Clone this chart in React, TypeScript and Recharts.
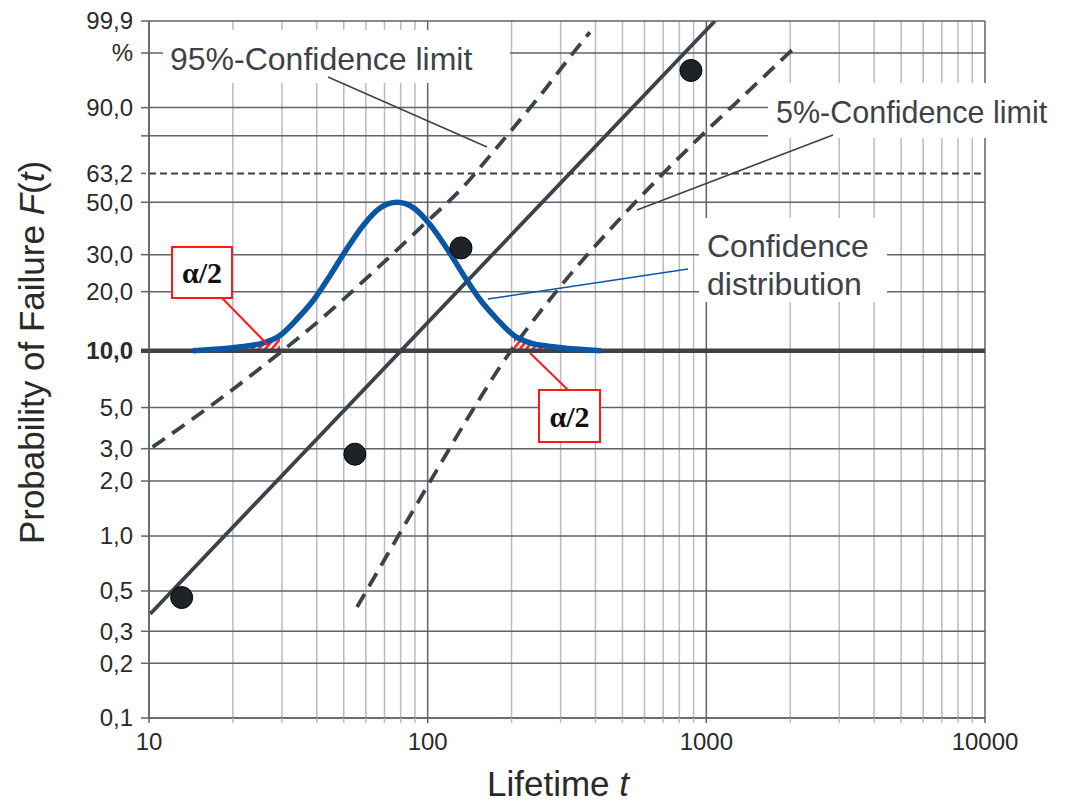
import React from 'react';
import {
  Area,
  CartesianGrid,
  ComposedChart,
  Label,
  Line,
  Scatter,
  XAxis,
  YAxis,
} from 'recharts';

// Weibull probability paper: ordinate is ln(-ln(1 - F))
const weib = (pct: number) => Math.log(-Math.log(1 - pct / 100));

// lifetime axis (log)
const X_MAJOR = [10, 100, 1000, 10000];
const X_MINOR = [
  20, 30, 40, 50, 60, 70, 80, 90, 200, 300, 400, 500, 600, 700, 800, 900, 2000, 3000, 4000, 5000,
  6000, 7000, 8000, 9000,
];

// probability axis (%)
const Y_TICKS = [0.1, 0.2, 0.3, 0.5, 1, 2, 3, 5, 10, 20, 30, 50, 63.2, 80, 90, 99, 99.9];
const Y_LABELS = ['0,1', '0,2', '0,3', '0,5', '1,0', '2,0', '3,0', '5,0', '10,0', '20,0', '30,0', '50,0', '63,2', '', '90,0', '%', '99,9'];
const Y_GRID = [0.1, 0.2, 0.3, 0.5, 1, 2, 3, 5, 20, 30, 50, 80, 90, 99, 99.9];
const CHAR_LEVEL = 63.2;
const QUANTILE = 10;

// failures: lifetime and median rank (%)
const failT = [13.1, 54.8, 131.7, 880.7];
const failF = [0.46, 2.8, 32.2, 97.5];

// fitted Weibull line
const fitT = [10.1, 1074];
const fitF = [0.374, 99.9];

// 95 % confidence limit
const upperT = [10.3, 16.8, 26.5, 41.1, 62.1, 93.8, 136.1, 171.5, 214.4, 267.9, 324, 382];
const upperF = [3.06, 5.16, 8.63, 14.43, 24.08, 39.3, 57.8, 73.0, 86.0, 94.98, 98.74, 99.75];

// 5 % confidence limit
const lowerT = [55.8, 99.4, 150.3, 181.7, 298.4, 477.7, 948, 1470, 2029];
const lowerF = [0.408, 1.857, 5.29, 8.23, 21.08, 41.7, 79.5, 94.98, 99.16];

// confidence distribution of the 10 % lifetime, sitting on the 10 % line
const distT = [
  14.38, 19.52, 22.47, 25.65, 29.51, 33.96, 38.77, 44.61, 51.33, 59.07, 67.44, 77.6, 89.3, 101.9,
  117.3, 134.9, 155.3, 177.3, 204.0, 234.8, 268.0, 308.4, 418.7,
];
const distF = [
  10.0, 10.35, 10.6, 10.97, 12.02, 14.59, 18.04, 23.92, 31.96, 40.71, 47.47, 50.0, 47.47, 40.71,
  31.96, 23.92, 18.04, 14.59, 12.02, 10.97, 10.6, 10.35, 10.0,
];

const W = 1059;
const H = 797;
const FONT = '"Liberation Sans", Arial, sans-serif';
const SERIF = '"Liberation Serif", "DejaVu Serif", serif';
const DARK = '#3d4248';
const GRID = '#5f646a';
const MINOR = '#b8bcc2';
const BLUE = '#0b56a4';
const TEXT = '#3d4248';
const RED = '#ff1a1a';

const toPts = (ts: number[], fs: number[]) => ts.map((t, i) => ({ t, w: weib(fs[i]) }));
const level = (pct: number) => [X_MAJOR[0], X_MAJOR[X_MAJOR.length - 1]].map((t) => ({ t, w: weib(pct) }));

const fails = toPts(failT, failF);
const fit = toPts(fitT, fitF);
const upper = toPts(upperT, upperF);
const lower = toPts(lowerT, lowerF);
const dist = toPts(distT, distF);
const tailLeft = dist.filter((p) => p.t <= 30);
const tailRight = dist.filter((p) => p.t >= 200);

const YTick = (props: any) => {
  const { x, y, payload } = props;
  const i = Y_TICKS.findIndex((p) => Math.abs(weib(p) - payload.value) < 1e-6);
  const pct = Y_TICKS[i];
  const bold = pct === QUANTILE;
  return (
    <g>
      <line
        x1={x + 8}
        x2={x + 16}
        y1={y}
        y2={y}
        stroke={bold ? DARK : GRID}
        strokeWidth={bold ? 4.5 : 1.5}
        strokeDasharray={pct === CHAR_LEVEL ? '5 3' : undefined}
      />
      <text
        x={x}
        y={y}
        dy="0.35em"
        textAnchor="end"
        fontSize={24}
        fontWeight={bold ? 700 : 400}
        fontFamily={FONT}
        fill="#2a2a2a"
      >
        {Y_LABELS[i]}
      </text>
    </g>
  );
};

const XTick = (props: any) => {
  const { x, y, payload } = props;
  const major = X_MAJOR.includes(payload.value);
  return (
    <g>
      <line x1={x} x2={x} y1={y - 15} y2={y - 10} stroke={major ? GRID : MINOR} strokeWidth={1.5} />
      {major && (
        <text x={x} y={y} dy="0.71em" textAnchor="middle" fontSize={24} fontFamily={FONT} fill="#2a2a2a">
          {payload.value}
        </text>
      )}
    </g>
  );
};

const YTitle = (props: any) => {
  const vb = props.viewBox || {};
  const cx = (vb.x ?? 0) + 23;
  const cy = (vb.y ?? 0) + (vb.height ?? 0) / 2 - 17;
  return (
    <text
      x={cx}
      y={cy}
      transform={`rotate(-90 ${cx} ${cy})`}
      textAnchor="middle"
      dominantBaseline="central"
      fontSize={35}
      fontFamily={FONT}
      fill="#2a2a2a"
    >
      Probability of Failure <tspan fontStyle="italic">F</tspan>(<tspan fontStyle="italic">t</tspan>)
    </text>
  );
};

const XTitle = (props: any) => {
  const vb = props.viewBox || {};
  const cx = (vb.x ?? 0) + (vb.width ?? 0) / 2 - 9;
  const cy = (vb.y ?? 0) + 78;
  return (
    <text x={cx} y={cy} textAnchor="middle" fontSize={35} fontFamily={FONT} fill="#2a2a2a">
      Lifetime <tspan fontStyle="italic">t</tspan>
    </text>
  );
};

const FailDot = (props: any) => (
  <circle cx={props.cx} cy={props.cy} r={11} fill="#1f2226" stroke="#000" strokeWidth={1} />
);

const AlphaBox = ({ x, y, w, h }: { x: number; y: number; w: number; h: number }) => (
  <g>
    <rect x={x} y={y} width={w} height={h} fill="#fff" stroke={RED} strokeWidth={2} />
    <text
      x={x + w / 2}
      y={y + h / 2}
      dy="0.35em"
      textAnchor="middle"
      fontSize={30}
      fontWeight={700}
      fontFamily={SERIF}
      fill="#111"
    >
      α/2
    </text>
  </g>
);

export default function App() {
  const lineProps = { dot: false, activeDot: false, isAnimationActive: false, dataKey: 'w' };
  return (
    <div style={{ position: 'relative', width: W, height: H, fontFamily: FONT }}>
      <ComposedChart width={W} height={H} margin={{ top: 13, right: 82, bottom: 0, left: 0 }}>
        <defs>
          <pattern id="alphaHatch" width="5" height="5" patternUnits="userSpaceOnUse" patternTransform="rotate(40)">
            <rect width="2.6" height="5" fill={RED} />
          </pattern>
        </defs>
        <CartesianGrid horizontal={false} verticalValues={X_MINOR} stroke={MINOR} strokeWidth={1.5} />
        <CartesianGrid
          verticalValues={X_MAJOR}
          horizontalValues={Y_GRID.map(weib)}
          stroke={GRID}
          strokeWidth={1.5}
        />
        <XAxis
          dataKey="t"
          type="number"
          scale="log"
          domain={[X_MAJOR[0], X_MAJOR[X_MAJOR.length - 1]]}
          allowDataOverflow
          ticks={[...X_MAJOR, ...X_MINOR].sort((a, b) => a - b)}
          interval={0}
          tick={<XTick />}
          tickLine={false}
          tickSize={5}
          tickMargin={10}
          height={87}
          axisLine={{ stroke: GRID, strokeWidth: 1.5 }}
        >
          <Label content={<XTitle />} />
        </XAxis>
        <YAxis
          dataKey="w"
          type="number"
          domain={[weib(Y_TICKS[0]), weib(Y_TICKS[Y_TICKS.length - 1])]}
          allowDataOverflow
          ticks={Y_TICKS.map(weib)}
          interval={0}
          tick={<YTick />}
          tickLine={false}
          tickSize={8}
          tickMargin={8}
          width={141}
          axisLine={{ stroke: GRID, strokeWidth: 1.5 }}
        >
          <Label content={<YTitle />} />
        </YAxis>

        <Line {...lineProps} data={level(CHAR_LEVEL)} type="linear" stroke={DARK} strokeWidth={2} strokeDasharray="7 4" />
        <Line {...lineProps} data={level(QUANTILE)} type="linear" stroke={DARK} strokeWidth={4.5} />

        <Area
          data={tailLeft}
          dataKey="w"
          type="monotone"
          baseValue={weib(QUANTILE)}
          fill="url(#alphaHatch)"
          fillOpacity={1}
          stroke="none"
          isAnimationActive={false}
          activeDot={false}
        />
        <Area
          data={tailRight}
          dataKey="w"
          type="monotone"
          baseValue={weib(QUANTILE)}
          fill="url(#alphaHatch)"
          fillOpacity={1}
          stroke="none"
          isAnimationActive={false}
          activeDot={false}
        />

        <Line {...lineProps} data={upper} type="monotone" stroke={DARK} strokeWidth={3.8} strokeDasharray="15 9" />
        <Line {...lineProps} data={lower} type="monotone" stroke={DARK} strokeWidth={3.8} strokeDasharray="15 9" />
        <Line {...lineProps} data={fit} type="linear" stroke={DARK} strokeWidth={3.8} />
        <Line {...lineProps} data={dist} type="monotone" stroke={BLUE} strokeWidth={5.5} />
        <Scatter data={fails} dataKey="w" shape={<FailDot />} isAnimationActive={false} />
      </ComposedChart>

      <svg
        width={W}
        height={H}
        style={{ position: 'absolute', left: 0, top: 0, pointerEvents: 'none', overflow: 'visible' }}
      >
        {/* callout: 95 % limit */}
        <rect x={155} y={22} width={347} height={53} fill="#fff" />
        <text x={162} y={62} fontSize={32} fontFamily={FONT} fill={TEXT}>
          95%-Confidence limit
        </text>
        <line x1={320} y1={69} x2={479} y2={139} stroke={TEXT} strokeWidth={1.5} />

        {/* callout: 5 % limit */}
        <rect x={760} y={75} width={299} height={55} fill="#fff" />
        <text x={768} y={115} fontSize={30.5} fontFamily={FONT} fill={TEXT}>
          5%-Confidence limit
        </text>
        <line x1={825} y1={127} x2={629} y2={202} stroke={TEXT} strokeWidth={1.5} />

        {/* callout: confidence distribution */}
        <rect x={691} y={210} width={188} height={84} fill="#fff" />
        <text x={699} y={249} fontSize={32} fontFamily={FONT} fill={TEXT}>
          Confidence
        </text>
        <text x={699} y={287} fontSize={32} fontFamily={FONT} fill={TEXT}>
          distribution
        </text>
        <line x1={680} y1={261} x2={480} y2={291} stroke={BLUE} strokeWidth={1.5} />

        {/* alpha/2 tails */}
        <line x1={214} y1={290} x2={260} y2={337} stroke={RED} strokeWidth={2} />
        <AlphaBox x={164} y={239} w={60} h={51} />
        <line x1={522} y1={345} x2={560} y2={382} stroke={RED} strokeWidth={2} />
        <AlphaBox x={531} y={382} w={61} h={52} />
      </svg>
    </div>
  );
}
